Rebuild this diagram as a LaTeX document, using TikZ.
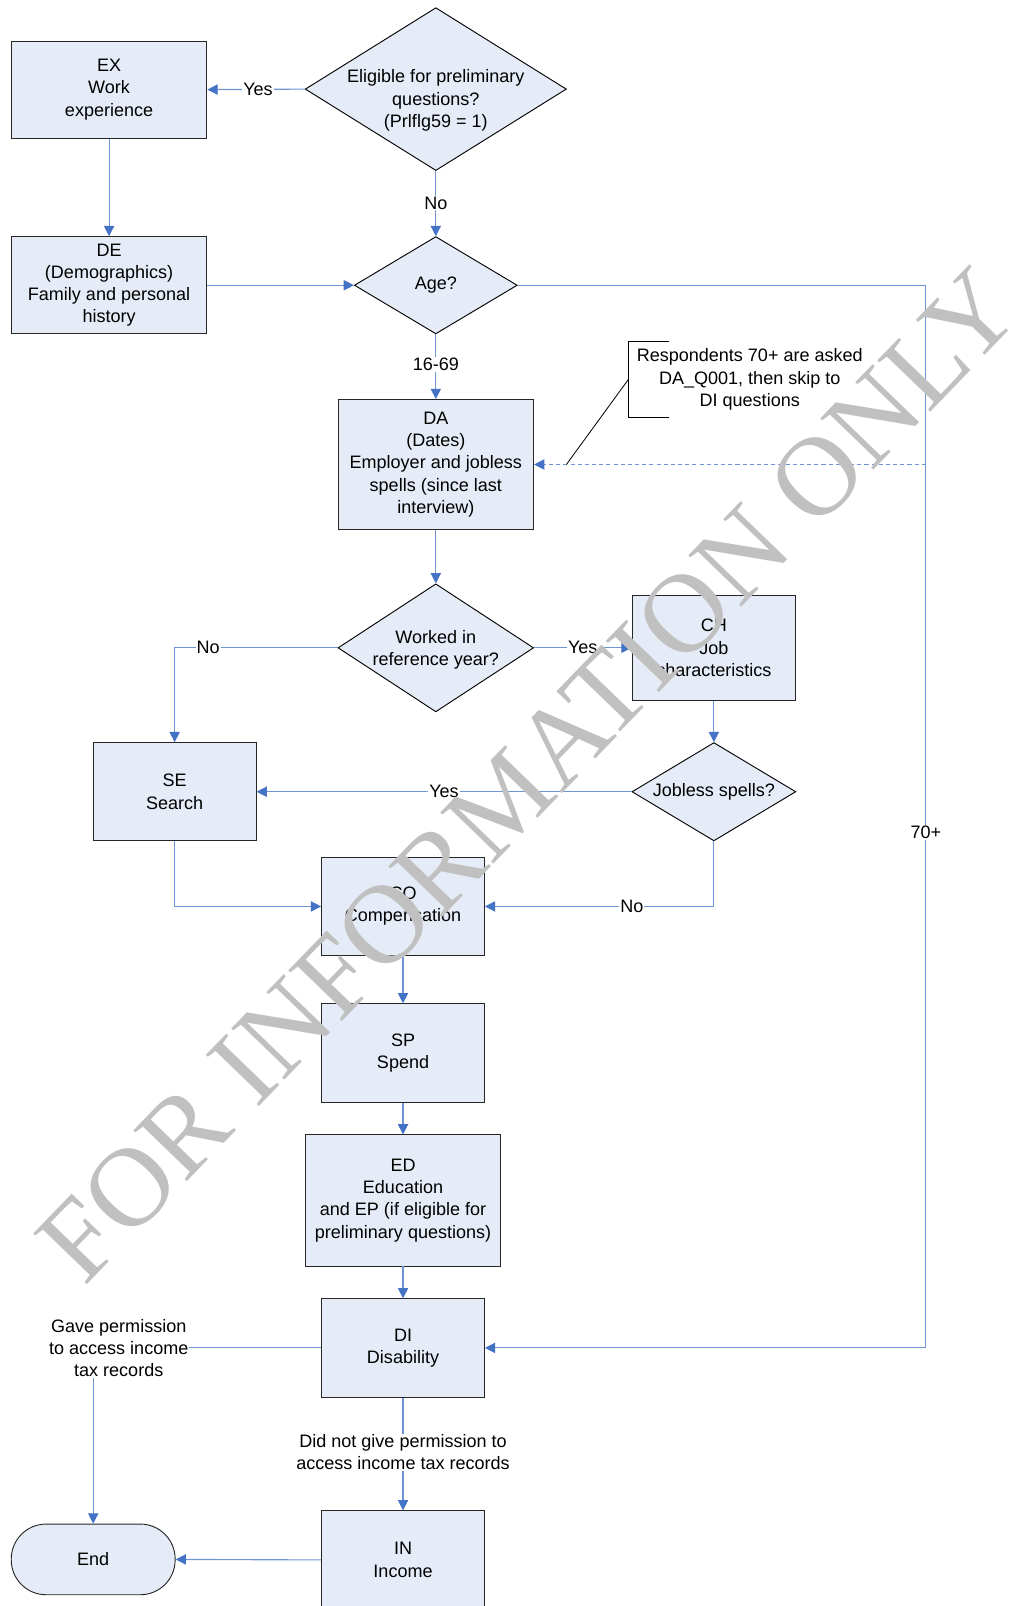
\documentclass[tikz,border=0pt]{standalone}
\usepackage{fontspec}
\setmainfont{Liberation Sans}
\newfontfamily\wmfont{Liberation Serif}
\usetikzlibrary{shapes.geometric,arrows.meta}
\definecolor{boxfill}{RGB}{230,236,247}
\definecolor{linkblue}{RGB}{110,148,212}
\definecolor{tipblue}{RGB}{68,114,196}
\definecolor{wmgrey}{RGB}{192,192,192}
\begin{document}
\begin{tikzpicture}[x=1pt,y=-1pt,
  every node/.style={font=\fontsize{17.6}{21.7}\selectfont},
  box/.style={draw=black!85, fill=boxfill, line width=0.9pt, align=center, inner sep=2pt,
              minimum width=159pt, minimum height=96pt},
  dia/.style={diamond, draw=black, fill=boxfill, line width=0.9pt, inner sep=0pt},
  flow/.style={draw=linkblue, line width=1.1pt, -{Triangle[length=10pt,width=10pt,color=tipblue]}},
  link/.style={draw=linkblue, line width=1.1pt},
  lbl/.style={fill=white, inner sep=1pt, align=center}]
\useasboundingbox (0,0) rectangle (985,1568);
\clip (0,0) rectangle (985,1568);

% nodes
\node[box, minimum width=191pt, minimum height=95pt] (ex) at (106.5,87.5) {EX\\Work\\experience};
\node[dia, minimum width=255pt, minimum height=159pt,
      label={[align=center, yshift=-11pt]center:Eligible for preliminary\\questions?\\(Prlflg59 = 1)}] (elig) at (425.5,87) {};
\node[box, minimum width=191pt, minimum height=95pt] (de) at (106.5,278.5) {DE\\(Demographics)\\Family and personal\\history};
\node[dia, minimum width=159pt, minimum height=95pt, label=center:Age?] (age) at (425.5,278.5) {};
\node[box, minimum width=191pt, minimum height=127pt] (da) at (425.5,453.5) {DA\\(Dates)\\Employer and jobless\\spells (since last\\interview)};
\node[align=center, inner xsep=8pt, minimum height=73pt] (note) at (732,370.5) {Respondents 70+ are asked\\DA\_Q001, then skip to\\DI questions};
\node[dia, minimum width=191pt, minimum height=125pt,
      label={[align=center, yshift=-2pt]center:Worked in\\reference year?}] (work) at (425.5,632.5) {};
\node[box, minimum width=160pt, minimum height=103pt] (ch) at (697,632.5) {CH\\Job\\characteristics};
\node[dia, minimum width=160pt, minimum height=96pt, label=center:Jobless spells?] (jobless) at (697,773) {};
\node[box] (se) at (170.5,773) {SE\\Search};
\node[box] (co) at (393.5,885) {CO\\Compensation};
\node[box] (sp) at (393.5,1028) {SP\\Spend};
\node[box, minimum width=191pt, minimum height=128pt] (ed) at (393.5,1172) {ED\\Education\\and EP (if eligible for\\preliminary questions)};
\node[box] (di) at (393.5,1316) {DI\\Disability};
\node[box] (in) at (393.5,1523) {IN\\Income};
\node[draw=black!85, fill=boxfill, line width=0.9pt, rounded corners=34pt,
      minimum width=160pt, minimum height=69pt] (end) at (91,1522.5) {End};
\coordinate (rtop) at (904,278.5);
\coordinate (rbot) at (904,1316);
\coordinate (rmid) at (904,453.5);
\coordinate (leftcol) at (91,1316);
\coordinate (callpt) at (553,453.5);

% connectors
\draw[flow] (elig.west) -- node[lbl,pos=0.48]{Yes} (ex.east);
\draw[flow] (elig.south) -- node[lbl,pos=0.49]{No} (age.north);
\draw[flow] (ex.south) -- (de.north);
\draw[flow] (de.east) -- (age.west);
\draw[flow] (age.south) -- node[lbl,pos=0.47]{16-69} (da.north);
\draw[link] (age.east) -- (rtop);
\draw[flow] (rtop) -- node[lbl,pos=0.515]{70+} (rbot) -- (di.east);
\draw[flow, dashed, dash pattern=on 4pt off 3pt] (rmid) -- (da.east);
\draw[flow] (da.south) -- (work.north);
\draw[flow] (work.west) -| node[lbl,pos=0.397]{No} (se.north);
\draw[flow] (work.east) -- node[lbl,pos=0.5]{Yes} (ch.west);
\draw[flow] (ch.south) -- (jobless.north);
\draw[flow] (jobless.west) -- node[lbl,pos=0.5]{Yes} (se.east);
\draw[flow] (jobless.south) |- node[lbl,pos=0.679]{No} (co.east);
\draw[flow] (se.south) |- (co.west);
\draw[flow] (co.south) -- (sp.north);
\draw[flow] (sp.south) -- (ed.north);
\draw[flow] (ed.south) -- (di.north);
\draw[flow] (di.west) -- node[lbl,pos=0.888]{Gave permission\\to access income\\tax records} (leftcol) -- (end.north);
\draw[flow] (di.south) -- node[lbl,pos=0.486]{Did not give permission to\\access income tax records} (in.north);
\draw[flow] (in.west) -- (end.east);

% callout
\draw[black, line width=0.8pt] ([xshift=40pt]note.north west) -- (note.north west) -- (note.south west) -- ([xshift=40pt]note.south west);
\draw[black, line width=0.8pt] (note.west) -- (callpt);

% watermark
\node[rotate=46, text=wmgrey, inner sep=0pt, font=\wmfont\fontsize{110}{110}\selectfont] (wm) at (516,757) {FOR INFORMATION ONLY};
\end{tikzpicture}
\end{document}
